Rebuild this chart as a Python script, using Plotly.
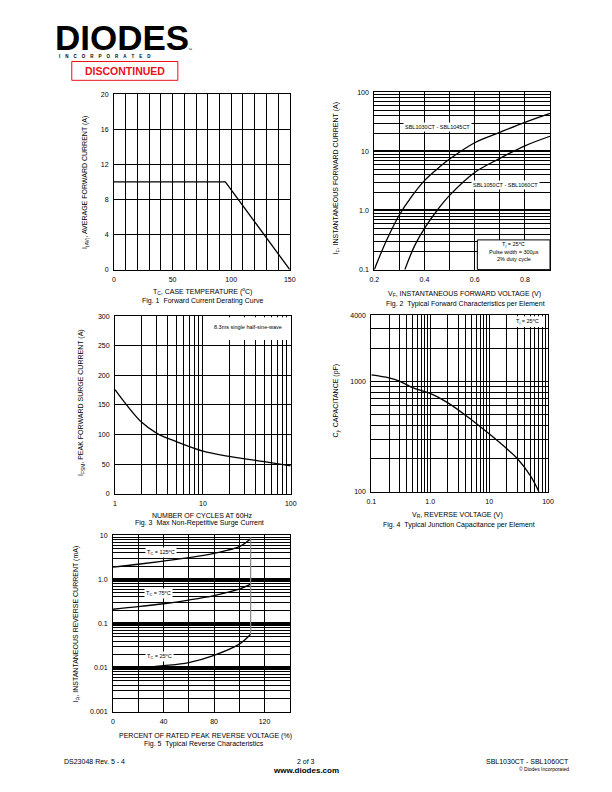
import plotly.graph_objects as go

W, H = 612, 792
FONT = "Liberation Sans, Arial, sans-serif"


def px(x):
    return x / W


def py(y):
    return 1 - y / H


# ---------------- data ----------------
# Fig 1: forward current derating
fig1_temp = [0, 95, 150]
fig1_current = [10, 10, 0]

# Fig 2: forward characteristics
fig2_vf_a = [0.2, 0.25, 0.3, 0.35, 0.4, 0.45, 0.5, 0.6, 0.7, 0.8, 0.9]
fig2_if_a = [0.1, 0.32, 0.84, 1.75, 3.2, 5.0, 7.4, 14, 21, 31, 44]
fig2_vf_b = [0.322, 0.36, 0.4, 0.45, 0.5, 0.6, 0.7, 0.8, 0.9]
fig2_if_b = [0.1, 0.25, 0.5, 1.0, 1.8, 4.4, 7.6, 12.4, 18]

# Fig 3: surge current
fig3_cycles = [1, 2, 3, 5, 10, 20, 50, 100]
fig3_ifsm = [176, 121, 102, 88, 72, 63, 54, 47]

# Fig 4: junction capacitance
fig4_vr = [0.1, 0.2, 0.3, 0.5, 1, 2, 5, 10, 20, 30, 50, 70]
fig4_cj = [1150, 1080, 1010, 880, 780, 640, 450, 335, 245, 200, 140, 100]

# Fig 5: reverse characteristics
fig5_pct = [0, 20, 40, 60, 80, 100, 109]
fig5_ir_125 = [1.9, 2.2, 2.6, 3.1, 3.9, 5.5, 8.3]
fig5_ir_75 = [0.21, 0.24, 0.28, 0.34, 0.43, 0.6, 0.78]
fig5_ir_25 = [0.0095, 0.0098, 0.011, 0.013, 0.019, 0.034, 0.057]
fig5_break_pct = [109, 109]
fig5_break_ir = [0.057, 9.0]

# tick definitions
fig1_xmajor = [0, 50, 100, 150]
fig1_xminor = [v for v in range(0, 151, 10) if v % 50]
fig1_yticks = [0, 4, 8, 12, 16, 20]

fig2_xmajor = [0.2, 0.4, 0.6, 0.8]
fig2_xminor = [0.3, 0.5, 0.7, 0.9]
dec_minor = [2, 3, 4, 5, 6, 7, 8, 9]
fig2_ymajor = [0.1, 1, 10, 100]
fig2_ylabels = ["0.1", "1.0", "10", "100"]
fig2_yminor = [m * 0.1 for m in dec_minor] + dec_minor + [m * 10 for m in dec_minor]

fig3_xmajor = [1, 10, 100]
fig3_xlabels = ["1", "10", "100"]
fig3_xminor = dec_minor + [m * 10 for m in dec_minor]
fig3_yticks = [0, 50, 100, 150, 200, 250, 300]

fig4_xmajor = [0.1, 1, 10, 100]
fig4_xlabels = ["0.1", "1.0", "10", "100"]
fig4_xminor = [m * 0.1 for m in dec_minor] + dec_minor + [m * 10 for m in dec_minor]
fig4_ymajor = [100, 1000, 4000]
fig4_ylabels = ["100", "1000", "4000"]
fig4_yminor = [m * 100 for m in dec_minor] + [2000, 3000]

fig5_xmajor = [0, 40, 80, 120]
fig5_xminor = [20, 60, 100, 140]
fig5_ymajor = [0.001, 0.01, 0.1, 1, 10]
fig5_ylabels = ["0.001", "0.01", "0.1", "1.0", "10"]
fig5_yminor = ([m * 0.001 for m in dec_minor] + [m * 0.01 for m in dec_minor]
               + [m * 0.1 for m in dec_minor] + dec_minor)

fig = go.Figure()

LINE = dict(color="black", width=1.3, shape="spline")


def base_axis(domain, anchor, **kw):
    d = dict(domain=domain, anchor=anchor, showline=True, linecolor="black",
             linewidth=1, mirror=True, ticks="", showgrid=True,
             gridcolor="black", gridwidth=1, zeroline=False,
             tickfont=dict(size=7, family=FONT, color="black"),
             fixedrange=True, ticklabelstandoff=3)
    d.update(kw)
    return d


def minor(vals, width=1):
    return dict(tickmode="array", tickvals=vals, showgrid=True,
                gridcolor="black", gridwidth=width, ticks="")


# ---------- Fig 1 ----------
fig.add_trace(go.Scatter(x=fig1_temp, y=fig1_current, mode="lines",
                         line=dict(color="black", width=1.3),
                         xaxis="x", yaxis="y", showlegend=False))
# ---------- Fig 2 ----------
fig.add_trace(go.Scatter(x=fig2_vf_a, y=fig2_if_a, mode="lines", line=LINE,
                         xaxis="x2", yaxis="y2", showlegend=False))
fig.add_trace(go.Scatter(x=fig2_vf_b, y=fig2_if_b, mode="lines", line=LINE,
                         xaxis="x2", yaxis="y2", showlegend=False))
# ---------- Fig 3 ----------
fig.add_trace(go.Scatter(x=fig3_cycles, y=fig3_ifsm, mode="lines", line=LINE,
                         xaxis="x3", yaxis="y3", showlegend=False))
# ---------- Fig 4 ----------
fig.add_trace(go.Scatter(x=fig4_vr, y=fig4_cj, mode="lines", line=LINE,
                         xaxis="x4", yaxis="y4", showlegend=False))
# ---------- Fig 5 ----------
for ys in (fig5_ir_125, fig5_ir_75, fig5_ir_25):
    fig.add_trace(go.Scatter(x=fig5_pct, y=ys, mode="lines", line=LINE,
                             xaxis="x5", yaxis="y5", showlegend=False))
fig.add_trace(go.Scatter(x=fig5_break_pct, y=fig5_break_ir, mode="lines",
                         line=dict(color="#888888", width=1.2),
                         xaxis="x5", yaxis="y5", showlegend=False))

# domains (pixel based)
d1x, d1y = [px(111), px(290)], [py(268), py(91)]
d2x, d2y = [px(376), px(555)], [py(268), py(89)]
d3x, d3y = [px(112), px(291)], [py(494), py(315)]
d4x, d4y = [px(373), px(553)], [py(492), py(314)]
d5x, d5y = [px(110), px(290)], [py(714), py(536)]

fig.update_layout(
    xaxis=base_axis(d1x, "y", range=[0, 150], tickmode="array",
                    tickvals=fig1_xmajor, minor=minor(fig1_xminor)),
    yaxis=base_axis(d1y, "x", range=[0, 20], tickmode="array",
                    tickvals=fig1_yticks),
    xaxis2=base_axis(d2x, "y2", range=[0.2, 0.9], tickmode="array",
                     tickvals=fig2_xmajor, minor=minor(fig2_xminor)),
    yaxis2=base_axis(d2y, "x2", type="log", range=[-1, 2], tickmode="array",
                     tickvals=fig2_ymajor, ticktext=fig2_ylabels, gridwidth=2,
                     minor=minor(fig2_yminor)),
    xaxis3=base_axis(d3x, "y3", type="log", range=[0, 2], tickmode="array",
                     tickvals=fig3_xmajor, ticktext=fig3_xlabels, gridwidth=1.3,
                     minor=minor(fig3_xminor, 1.3)),
    yaxis3=base_axis(d3y, "x3", range=[0, 300], tickmode="array",
                     tickvals=fig3_yticks),
    xaxis4=base_axis(d4x, "y4", type="log", range=[-1, 2], tickmode="array",
                     tickvals=fig4_xmajor, ticktext=fig4_xlabels, gridwidth=1.3,
                     minor=minor(fig4_xminor, 1.3)),
    yaxis4=base_axis(d4y, "x4", type="log", range=[2, 3.60206], tickmode="array",
                     tickvals=fig4_ymajor, ticktext=fig4_ylabels, gridwidth=1.3,
                     minor=minor(fig4_yminor, 1.3)),
    xaxis5=base_axis(d5x, "y5", range=[0, 140], tickmode="array",
                     tickvals=fig5_xmajor, minor=minor(fig5_xminor)),
    yaxis5=base_axis(d5y, "x5", type="log", range=[-3, 1], tickmode="array",
                     tickvals=fig5_ymajor, ticktext=fig5_ylabels, gridwidth=3,
                     minor=minor(fig5_yminor)),
)

ann = []


def txt(x, y, text, size=7, xanchor="center", angle=0, color="black", bg=None,
        bold=False, border=None):
    a = dict(x=px(x), y=py(y), xref="paper", yref="paper", text=text,
             showarrow=False, xanchor=xanchor, yanchor="middle",
             textangle=angle,
             font=dict(size=size, family=FONT, color=color))
    if bold:
        a["text"] = "<b>" + text + "</b>"
    if bg:
        a["bgcolor"] = bg
    if border:
        a["bordercolor"] = border
        a["borderwidth"] = 1
    ann.append(a)


# Fig 1 texts
txt(82, 180, "I<sub>(AV)</sub>, AVERAGE FORWARD CURRENT (A)", angle=-90)
txt(201, 290, "T<sub>C</sub>, CASE TEMPERATURE (<sup>o</sup>C)")
txt(201, 300, "Fig. 1  Forward Current Derating Curve")
# Fig 2 texts
txt(338, 176, "I<sub>F</sub>, INSTANTANEOUS FORWARD CURRENT (A)", angle=-90)
txt(468, 293, "V<sub>F</sub>, INSTANTANEOUS FORWARD VOLTAGE (V)")
txt(469, 303, "Fig. 2  Typical Forward Characteristics per Element")
txt(440, 124, "SBL1030CT - SBL1045CT", size=5.5, bg="white")
txt(510, 183, "SBL1050CT - SBL1060CT", size=5.5, bg="white")
# Fig 3 texts
txt(78, 402, "I<sub>FSM</sub>, PEAK FORWARD SURGE CURRENT (A)", angle=-90)
txt(201, 516, "NUMBER OF CYCLES AT 60Hz")
txt(198, 524, "Fig. 3  Max Non-Repetitive Surge Current")
# Fig 4 texts
txt(338, 400, "C<sub>j</sub>, CAPACITANCE (pF)", angle=-90)
txt(461, 516, "V<sub>R</sub>, REVERSE VOLTAGE (V)")
txt(462, 526, "Fig. 4  Typical Junction Capacitance per Element")
# Fig 5 texts
txt(73, 626, "I<sub>R</sub>, INSTANTANEOUS REVERSE CURRENT (mA)", angle=-90)
txt(204, 739, "PERCENT OF RATED PEAK REVERSE VOLTAGE (%)")
txt(203, 747, "Fig. 5  Typical Reverse Characteristics")
txt(159, 553, "T<sub>C</sub> = 125<sup>o</sup>C", size=5.5, bg="white")
txt(156, 595, "T<sub>C</sub> = 75<sup>o</sup>C", size=5.5, bg="white")
txt(157, 658, "T<sub>C</sub> = 25<sup>o</sup>C", size=5.5, bg="white")

# header
txt(49, 34, "DIODES", size=35, xanchor="left", bold=True)
txt(53, 53, "\u00a0\u00a0\u00a0\u00a0".join("INCORPORATED"), size=4.5,
    xanchor="left", bold=True)
txt(184, 46, "\u2122", size=4, xanchor="left")
txt(122, 67.5, "DISCONTINUED", size=10.5, color="#e8101a", bold=True)

# footer
txt(58, 764, "DS23048 Rev. 5 - 4", xanchor="left")
txt(306, 764, "2 of 3")
txt(306, 773, "www.diodes.com", size=8, bold=True)
txt(576, 764, "SBL1030CT - SBL1060CT", xanchor="right")
txt(576, 772, "\u00a9 Diodes Incorporated", size=5, xanchor="right")

shapes = [
    dict(type="rect", xref="paper", yref="paper", x0=px(68), x1=px(176),
         y0=py(77), y1=py(58), line=dict(color="#e8101a", width=1)),
    # white label boxes over grids
    dict(type="rect", xref="paper", yref="paper", x0=px(481), x1=px(555),
         y0=py(268), y1=py(238), fillcolor="white",
         line=dict(color="black", width=1), layer="above"),
    dict(type="rect", xref="paper", yref="paper", x0=px(205), x1=px(290),
         y0=py(339), y1=py(316), fillcolor="white",
         line=dict(width=0), layer="above"),
    dict(type="rect", xref="paper", yref="paper", x0=px(514), x1=px(549),
         y0=py(326), y1=py(315), fillcolor="white",
         line=dict(width=0), layer="above"),
]
fig.update_layout(shapes=shapes)

# texts inside boxes (annotations drawn above shapes)
txt(518, 243, "T<sub>j</sub> = 25<sup>o</sup>C", size=5.5)
txt(518, 250, "Pulse width = 300\u00b5s", size=5.5)
txt(518, 257, "2% duty cycle", size=5.5)
txt(247, 326, "8.3ms single half-sine-wave", size=5.5)
txt(532, 320, "T<sub>j</sub> = 25<sup>o</sup>C", size=5.5)

fig.update_layout(annotations=ann, width=W, height=H,
                  margin=dict(l=0, r=0, t=0, b=0),
                  paper_bgcolor="white", plot_bgcolor="white",
                  font=dict(family=FONT, size=7, color="black"),
                  showlegend=False)

fig.write_html(
    "out.html", config=dict(displayModeBar=False),
    post_script=("document.body.style.margin='0';"
                 "document.body.style.overflow='hidden';"
                 "document.documentElement.style.overflow='hidden';"))
